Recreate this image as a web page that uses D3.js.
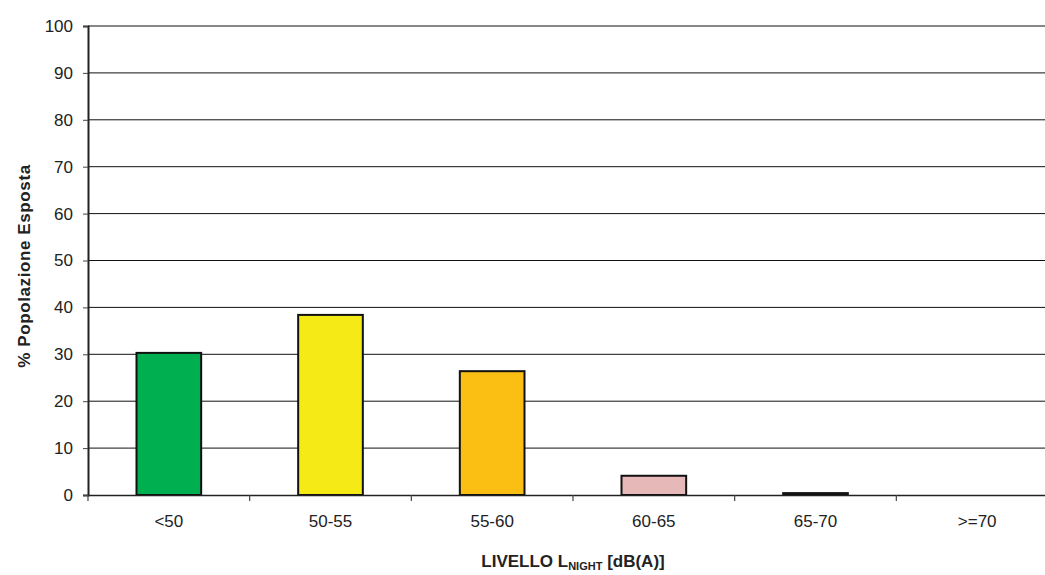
<!DOCTYPE html>
<html><head><meta charset="utf-8">
<script src="https://cdn.jsdelivr.net/npm/d3@7"></script>
<style>body{margin:0;background:#fff;}svg{display:block;font-family:"Liberation Sans",Arial,sans-serif;}</style>
</head><body><svg id="c" width="1045" height="575"></svg>
<script>
const categories = ["<50", "50-55", "55-60", "60-65", "65-70", ">=70"];
const values = [30.3, 38.4, 26.4, 4.1, 0.4, 0];
const colors = ["#00b050", "#f5e916", "#fbbf14", "#e6b9b8", "#c0504d", "#c00000"];
const yTicks = [0, 10, 20, 30, 40, 50, 60, 70, 80, 90, 100];

const svg = d3.select("#c");
const x0 = 88, x1 = 1058, yTop = 26, yBot = 495;
const x = d3.scaleBand().domain(categories).range([x0, x1]).paddingInner(0.6).paddingOuter(0.3);
const y = d3.scaleLinear().domain([0, 100]).range([yBot, yTop]);

// gridlines
svg.append("g").selectAll("line").data(yTicks.filter(d => d > 0)).join("line")
  .attr("x1", x0).attr("x2", x1).attr("y1", d => y(d)).attr("y2", d => y(d))
  .attr("stroke", "#111").attr("stroke-width", 1);

// y axis
const ya = svg.append("g").attr("transform", `translate(${x0},0)`)
  .call(d3.axisLeft(y).tickValues(yTicks).tickSize(5).tickPadding(10));
ya.select(".domain").attr("stroke", "#222").attr("stroke-width", 2);
ya.selectAll(".tick line").attr("stroke", "#444");
ya.selectAll("text").attr("font-size", 17).attr("fill", "#222").attr("font-family", "Liberation Sans, Arial, sans-serif");

// bars
svg.append("g").selectAll("rect").data(categories).join("rect")
  .attr("x", d => x(d)).attr("width", x.bandwidth())
  .attr("y", (d, i) => y(values[i])).attr("height", (d, i) => yBot - y(values[i]))
  .attr("fill", (d, i) => colors[i]).attr("stroke", "#111").attr("stroke-width", 2)
  .attr("display", (d, i) => values[i] > 0 ? null : "none");

// x axis
const xa = svg.append("g").attr("transform", `translate(0,${yBot})`)
  .call(d3.axisBottom(x).tickSize(0).tickPadding(20));
xa.select(".domain").attr("stroke", "#222").attr("stroke-width", 1.5);
xa.selectAll("text").attr("font-size", 17).attr("fill", "#222").attr("font-family", "Liberation Sans, Arial, sans-serif");
const step = x.step();
const bounds = categories.map(d => x(d) + x.bandwidth() + (step - x.bandwidth()) / 2);
svg.append("g").selectAll("line").data([x0].concat(bounds)).join("line")
  .attr("x1", d => d).attr("x2", d => d).attr("y1", yBot).attr("y2", yBot + 6)
  .attr("stroke", "#444").attr("stroke-width", 1.2);

// y title
svg.append("text").attr("transform", "translate(30,266) rotate(-90)")
  .attr("text-anchor", "middle").attr("font-size", 17).attr("font-weight", "bold").attr("fill", "#222")
  .attr("letter-spacing", 0.6)
  .text("% Popolazione Esposta");

// x title
const xt = svg.append("text").attr("x", 573).attr("y", 567).attr("text-anchor", "middle")
  .attr("font-size", 17).attr("font-weight", "bold").attr("fill", "#222");
xt.append("tspan").text("LIVELLO L");
xt.append("tspan").attr("font-size", 11).attr("dy", 3).text("NIGHT");
xt.append("tspan").attr("dy", -3).text(" [dB(A)]");
</script></body></html>
